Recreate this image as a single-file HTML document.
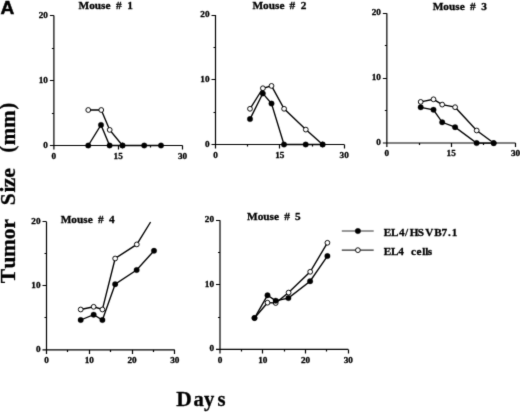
<!DOCTYPE html>
<html><head><meta charset="utf-8"><title>Figure A</title>
<style>html,body{margin:0;padding:0;background:#fff}body{width:520px;height:412px;overflow:hidden}svg{display:block}</style>
</head><body>
<svg width="520" height="412" viewBox="0 0 520 412">
<rect width="520" height="412" fill="#fff"/>
<defs><filter id="b" x="0" y="0" width="100%" height="100%" filterUnits="userSpaceOnUse" primitiveUnits="userSpaceOnUse" color-interpolation-filters="sRGB"><feConvolveMatrix order="3" kernelMatrix="0.01323 0.08855 0.01323 0.08855 0.59290 0.08855 0.01323 0.08855 0.01323" edgeMode="duplicate"/></filter></defs>
<g filter="url(#b)">
<g font-family="'Liberation Serif', serif" font-weight="bold" fill="#000" stroke="#000" stroke-width="0.3">
<path d="M53.9 15.5V149.5 M49.9 145.5H182.5" stroke="#000" stroke-width="1.2" fill="none"/>
<path d="M49.9 80.50H53.9M49.9 15.50H53.9M51.9 113.50H53.9M51.9 48.50H53.9M118.50 145.5V149.5M182.50 145.5V149.5M86.50 145.5V147.5M150.50 145.5V147.5" stroke="#000" stroke-width="1.2" fill="none"/>
<text transform="translate(47.90,147.70) scale(1.06,1)" font-size="8.7" text-anchor="end">0</text>
<text transform="translate(47.90,83.40) scale(1.06,1)" font-size="8.7" text-anchor="end">10</text>
<text transform="translate(47.90,18.40) scale(1.06,1)" font-size="8.7" text-anchor="end">20</text>
<text transform="translate(53.90,158.90) scale(1.06,1)" font-size="8.7" text-anchor="middle">0</text>
<text transform="translate(118.20,158.90) scale(1.06,1)" font-size="8.7" text-anchor="middle">15</text>
<text transform="translate(182.50,158.90) scale(1.06,1)" font-size="8.7" text-anchor="middle">30</text>
<text x="78.5" y="9.25" font-size="11.3">Mouse</text>
<text x="115.95" y="9.25" font-size="11.3">#</text>
<text x="127.25" y="9.25" font-size="11.3">1</text>
<polyline points="88.25,110 101.25,110 109.7,129.9 122.5,145.5" fill="none" stroke="#000" stroke-width="1.35"/>
<polyline points="88.25,145.5 101,124.9 109.6,145.5 122.5,145.5 144.2,145.5 161,145.5" fill="none" stroke="#000" stroke-width="1.35"/>
<circle cx="88.25" cy="110" r="2.4" fill="#fff" stroke="#000" stroke-width="0.95"/>
<circle cx="101.25" cy="110" r="2.4" fill="#fff" stroke="#000" stroke-width="0.95"/>
<circle cx="109.7" cy="129.9" r="2.4" fill="#fff" stroke="#000" stroke-width="0.95"/>
<circle cx="122.5" cy="145.5" r="2.4" fill="#fff" stroke="#000" stroke-width="0.95"/>
<circle cx="88.25" cy="145.5" r="2.75" fill="#000"/>
<circle cx="101" cy="124.9" r="2.75" fill="#000"/>
<circle cx="109.6" cy="145.5" r="2.75" fill="#000"/>
<circle cx="122.5" cy="145.5" r="2.75" fill="#000"/>
<circle cx="144.2" cy="145.5" r="2.75" fill="#000"/>
<circle cx="161" cy="145.5" r="2.75" fill="#000"/>
<path d="M215.5 15.0V148.5 M211.5 144.5H344.2" stroke="#000" stroke-width="1.2" fill="none"/>
<path d="M211.5 79.50H215.5M211.5 15.50H215.5M213.5 112.50H215.5M213.5 47.50H215.5M279.50 144.5V148.5M344.50 144.5V148.5M247.50 144.5V146.5M312.50 144.5V146.5" stroke="#000" stroke-width="1.2" fill="none"/>
<text transform="translate(209.50,146.75) scale(1.06,1)" font-size="8.7" text-anchor="end">0</text>
<text transform="translate(209.50,82.00) scale(1.06,1)" font-size="8.7" text-anchor="end">10</text>
<text transform="translate(209.50,17.25) scale(1.06,1)" font-size="8.7" text-anchor="end">20</text>
<text transform="translate(215.50,157.90) scale(1.06,1)" font-size="8.7" text-anchor="middle">0</text>
<text transform="translate(279.85,157.90) scale(1.06,1)" font-size="8.7" text-anchor="middle">15</text>
<text transform="translate(344.20,157.90) scale(1.06,1)" font-size="8.7" text-anchor="middle">30</text>
<text x="252.4" y="8.55" font-size="11.3">Mouse</text>
<text x="289.4" y="8.55" font-size="11.3">#</text>
<text x="300.65" y="8.55" font-size="11.3">2</text>
<polyline points="250,108.8 262.9,88.25 271.5,85.9 284.1,108.8 305.8,129.6 322.6,144.5" fill="none" stroke="#000" stroke-width="1.35"/>
<polyline points="250,119.1 262.8,93.4 271.5,103.6 284.0,144.5 305.7,144.5 322.6,144.5" fill="none" stroke="#000" stroke-width="1.35"/>
<circle cx="250" cy="108.8" r="2.4" fill="#fff" stroke="#000" stroke-width="0.95"/>
<circle cx="262.9" cy="88.25" r="2.4" fill="#fff" stroke="#000" stroke-width="0.95"/>
<circle cx="271.5" cy="85.9" r="2.4" fill="#fff" stroke="#000" stroke-width="0.95"/>
<circle cx="284.1" cy="108.8" r="2.4" fill="#fff" stroke="#000" stroke-width="0.95"/>
<circle cx="305.8" cy="129.6" r="2.4" fill="#fff" stroke="#000" stroke-width="0.95"/>
<circle cx="322.6" cy="144.5" r="2.4" fill="#fff" stroke="#000" stroke-width="0.95"/>
<circle cx="250" cy="119.1" r="2.75" fill="#000"/>
<circle cx="262.8" cy="93.4" r="2.75" fill="#000"/>
<circle cx="271.5" cy="103.6" r="2.75" fill="#000"/>
<circle cx="284.0" cy="144.5" r="2.75" fill="#000"/>
<circle cx="305.7" cy="144.5" r="2.75" fill="#000"/>
<circle cx="322.6" cy="144.5" r="2.75" fill="#000"/>
<path d="M386.85 13.35V147.0 M382.85 143.0H515.5" stroke="#000" stroke-width="1.2" fill="none"/>
<path d="M382.85 78.50H386.85M382.85 13.50H386.85M384.85 110.50H386.85M384.85 45.50H386.85M451.50 143.0V147.0M515.50 143.0V147.0M419.50 143.0V145.0M483.50 143.0V145.0" stroke="#000" stroke-width="1.2" fill="none"/>
<text transform="translate(380.85,145.25) scale(1.06,1)" font-size="8.7" text-anchor="end">0</text>
<text transform="translate(380.85,80.42) scale(1.06,1)" font-size="8.7" text-anchor="end">10</text>
<text transform="translate(380.85,15.40) scale(1.06,1)" font-size="8.7" text-anchor="end">20</text>
<text transform="translate(386.85,156.40) scale(1.06,1)" font-size="8.7" text-anchor="middle">0</text>
<text transform="translate(451.18,156.40) scale(1.06,1)" font-size="8.7" text-anchor="middle">15</text>
<text transform="translate(515.50,156.40) scale(1.06,1)" font-size="8.7" text-anchor="middle">30</text>
<text x="432.7" y="9.9" font-size="11.3">Mouse</text>
<text x="469.95" y="9.9" font-size="11.3">#</text>
<text x="481.15" y="9.9" font-size="11.3">3</text>
<polyline points="420.7,101.9 433.5,99.3 442.2,104.6 455.1,107.2 476.7,130.5 493.7,143.0" fill="none" stroke="#000" stroke-width="1.35"/>
<polyline points="420.7,107.3 433.5,109.8 442.2,122.3 455.1,127.2 476.6,143.1 493.7,143.2" fill="none" stroke="#000" stroke-width="1.35"/>
<circle cx="420.7" cy="101.9" r="2.4" fill="#fff" stroke="#000" stroke-width="0.95"/>
<circle cx="433.5" cy="99.3" r="2.4" fill="#fff" stroke="#000" stroke-width="0.95"/>
<circle cx="442.2" cy="104.6" r="2.4" fill="#fff" stroke="#000" stroke-width="0.95"/>
<circle cx="455.1" cy="107.2" r="2.4" fill="#fff" stroke="#000" stroke-width="0.95"/>
<circle cx="476.7" cy="130.5" r="2.4" fill="#fff" stroke="#000" stroke-width="0.95"/>
<circle cx="493.7" cy="143.0" r="2.4" fill="#fff" stroke="#000" stroke-width="0.95"/>
<circle cx="420.7" cy="107.3" r="2.75" fill="#000"/>
<circle cx="433.5" cy="109.8" r="2.75" fill="#000"/>
<circle cx="442.2" cy="122.3" r="2.75" fill="#000"/>
<circle cx="455.1" cy="127.2" r="2.75" fill="#000"/>
<circle cx="476.6" cy="143.1" r="2.75" fill="#000"/>
<circle cx="493.7" cy="143.2" r="2.75" fill="#000"/>
<path d="M46.5 221.8V353.95 M42.5 349.95H174.8" stroke="#000" stroke-width="1.2" fill="none"/>
<path d="M42.5 285.50H46.5M42.5 221.50H46.5M44.5 317.50H46.5M44.5 253.50H46.5M89.50 349.95V353.95M132.50 349.95V353.95M174.50 349.95V353.95M67.50 349.95V351.95M110.50 349.95V351.95M153.50 349.95V351.95" stroke="#000" stroke-width="1.2" fill="none"/>
<text transform="translate(40.50,352.20) scale(1.06,1)" font-size="8.7" text-anchor="end">0</text>
<text transform="translate(40.50,288.12) scale(1.06,1)" font-size="8.7" text-anchor="end">10</text>
<text transform="translate(40.50,224.05) scale(1.06,1)" font-size="8.7" text-anchor="end">20</text>
<text transform="translate(46.50,363.35) scale(1.06,1)" font-size="8.7" text-anchor="middle">0</text>
<text transform="translate(89.27,363.35) scale(1.06,1)" font-size="8.7" text-anchor="middle">10</text>
<text transform="translate(132.03,363.35) scale(1.06,1)" font-size="8.7" text-anchor="middle">20</text>
<text transform="translate(174.80,363.35) scale(1.06,1)" font-size="8.7" text-anchor="middle">30</text>
<text x="60.7" y="222.8" font-size="11.3">Mouse</text>
<text x="97.95" y="222.8" font-size="11.3">#</text>
<text x="108.95" y="222.8" font-size="11.3">4</text>
<polyline points="80.7,309.5 93.65,306.8 102.4,309.5 115.15,258.5 136.8,244.4 150.6,222" fill="none" stroke="#000" stroke-width="1.35"/>
<polyline points="80.7,320.0 93.65,314.7 102.4,320.0 115.15,284.15 136.65,270.0 154.0,250.8" fill="none" stroke="#000" stroke-width="1.35"/>
<circle cx="80.7" cy="309.5" r="2.4" fill="#fff" stroke="#000" stroke-width="0.95"/>
<circle cx="93.65" cy="306.8" r="2.4" fill="#fff" stroke="#000" stroke-width="0.95"/>
<circle cx="102.4" cy="309.5" r="2.4" fill="#fff" stroke="#000" stroke-width="0.95"/>
<circle cx="115.15" cy="258.5" r="2.4" fill="#fff" stroke="#000" stroke-width="0.95"/>
<circle cx="136.8" cy="244.4" r="2.4" fill="#fff" stroke="#000" stroke-width="0.95"/>
<circle cx="80.7" cy="320.0" r="2.75" fill="#000"/>
<circle cx="93.65" cy="314.7" r="2.75" fill="#000"/>
<circle cx="102.4" cy="320.0" r="2.75" fill="#000"/>
<circle cx="115.15" cy="284.15" r="2.75" fill="#000"/>
<circle cx="136.65" cy="270.0" r="2.75" fill="#000"/>
<circle cx="154.0" cy="250.8" r="2.75" fill="#000"/>
<path d="M220.0 220.2V353.4 M216.0 349.4H348.25" stroke="#000" stroke-width="1.2" fill="none"/>
<path d="M216.0 284.50H220.0M216.0 220.50H220.0M218.0 317.50H220.0M218.0 252.50H220.0M262.50 349.4V353.4M305.50 349.4V353.4M348.50 349.4V353.4M241.50 349.4V351.4M284.50 349.4V351.4M326.50 349.4V351.4" stroke="#000" stroke-width="1.2" fill="none"/>
<text transform="translate(214.00,351.40) scale(1.06,1)" font-size="8.7" text-anchor="end">0</text>
<text transform="translate(214.00,286.75) scale(1.06,1)" font-size="8.7" text-anchor="end">10</text>
<text transform="translate(214.00,222.20) scale(1.06,1)" font-size="8.7" text-anchor="end">20</text>
<text transform="translate(220.00,362.80) scale(1.06,1)" font-size="8.7" text-anchor="middle">0</text>
<text transform="translate(262.75,362.80) scale(1.06,1)" font-size="8.7" text-anchor="middle">10</text>
<text transform="translate(305.50,362.80) scale(1.06,1)" font-size="8.7" text-anchor="middle">20</text>
<text transform="translate(348.25,362.80) scale(1.06,1)" font-size="8.7" text-anchor="middle">30</text>
<text x="247.0" y="220.3" font-size="11.3">Mouse</text>
<text x="284.25" y="220.3" font-size="11.3">#</text>
<text x="295.05" y="220.3" font-size="11.3">5</text>
<polyline points="254.5,318 267.5,302.7 275.7,303.0 288.6,292.6 310.2,271.8 327.4,242.8" fill="none" stroke="#000" stroke-width="1.35"/>
<polyline points="254.5,318 267.5,295.3 275.7,300.7 288.4,298.1 310.1,281.25 327.4,256.1" fill="none" stroke="#000" stroke-width="1.35"/>
<circle cx="254.5" cy="318" r="2.4" fill="#fff" stroke="#000" stroke-width="0.95"/>
<circle cx="267.5" cy="302.7" r="2.4" fill="#fff" stroke="#000" stroke-width="0.95"/>
<circle cx="275.7" cy="303.0" r="2.4" fill="#fff" stroke="#000" stroke-width="0.95"/>
<circle cx="288.6" cy="292.6" r="2.4" fill="#fff" stroke="#000" stroke-width="0.95"/>
<circle cx="310.2" cy="271.8" r="2.4" fill="#fff" stroke="#000" stroke-width="0.95"/>
<circle cx="327.4" cy="242.8" r="2.4" fill="#fff" stroke="#000" stroke-width="0.95"/>
<circle cx="254.5" cy="318" r="2.75" fill="#000"/>
<circle cx="267.5" cy="295.3" r="2.75" fill="#000"/>
<circle cx="275.7" cy="300.7" r="2.75" fill="#000"/>
<circle cx="288.4" cy="298.1" r="2.75" fill="#000"/>
<circle cx="310.1" cy="281.25" r="2.75" fill="#000"/>
<circle cx="327.4" cy="256.1" r="2.75" fill="#000"/>
<path d="M341.8 231.05H373.7 M341.8 250.15H373.7" stroke="#333" stroke-width="1.1" fill="none"/>
<circle cx="357.9" cy="231.05" r="2.75" fill="#000"/>
<circle cx="357.9" cy="250.15" r="2.4" fill="#fff" stroke="#000" stroke-width="0.95"/>
<text x="383.7 390.9 399.05 405.1 409.65 417.8 425.2 434.3 441.55 447.9 451.7" y="235.5" font-size="11.2">EL4/HSVB7.1</text>
<text x="383.7 390.9 398.15" y="254.55" font-size="11.2">EL4</text>
<text x="411.0 416.5 422.3 425.2 427.8" y="254.55" font-size="11.2">cells</text>
<text y="406.1" font-size="21.5"><tspan x="176.3">D</tspan><tspan x="193.5 204.1 217.6" font-size="20.6">ays</tspan></text>
<text transform="translate(15.1,283.0) rotate(-90)" font-size="21.5"><tspan x="-0.34 14.42 26.12 43.88 54.62">Tumor</tspan><tspan x="77.66 90.43 95.78 105.17">Size</tspan><tspan x="130.52" y="-0.8" font-size="20">(</tspan><tspan x="137.84 155.34" y="0" font-size="20.8">mm</tspan><tspan x="173.46" y="-0.8" font-size="20">)</tspan></text>
</g>
<text x="0.4" y="13.6" font-family="'Liberation Sans', sans-serif" font-weight="bold" font-size="19.1" fill="#000" stroke="#000" stroke-width="0.5">A</text>
</g>
</svg>
</body></html>
